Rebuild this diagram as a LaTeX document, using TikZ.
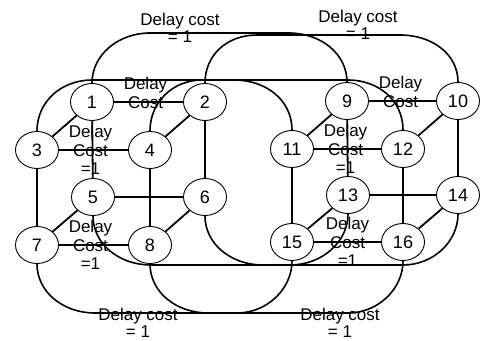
\documentclass[tikz,border=0pt]{standalone}
\usepackage{fontspec}
\setmainfont{Liberation Sans}
\usetikzlibrary{shapes,positioning,calc}
\tikzstyle{vertex} = [ellipse, draw, line width=0.45pt, minimum width=21.5pt, minimum height=18.5pt, inner sep=0pt, font=\fontsize{9}{10}\selectfont]
\tikzstyle{edge} = [line width=0.9pt]
\tikzstyle{link} = [line width=0.8pt]
\tikzstyle{costlabel} = [align=center, inner sep=0pt, font=\fontsize{8.5}{9.2}\selectfont]
\tikzstyle{bigcost} = [align=center, inner sep=0pt, font=\fontsize{8.5}{8.5}\selectfont]

\begin{document}
\begin{tikzpicture}[x=0.5pt, y=-0.5pt]
\useasboundingbox (0,0) rectangle (481,341);

% Left cube
\node (n1) [vertex] at (92,102) {1};
\node (n2) [vertex] at (205,102) {2};
\node (n3) [vertex] at (37,150) {3};
\node (n4) [vertex] at (150,150) {4};
\node (n5) [vertex] at (93,197) {5};
\node (n6) [vertex] at (205,197) {6};
\node (n7) [vertex] at (37,245) {7};
\node (n8) [vertex] at (150,245) {8};

% Right cube
\node (n9) [vertex] at (347,101) {9};
\node (n10) [vertex] at (458,101) {10};
\node (n11) [vertex] at (292,149) {11};
\node (n12) [vertex] at (403,149) {12};
\node (n13) [vertex] at (348,195) {13};
\node (n14) [vertex] at (458,195) {14};
\node (n15) [vertex] at (292,242) {15};
\node (n16) [vertex] at (403,242) {16};

% Levels of the long links
\coordinate (top1) at (0,33);
\coordinate (top2) at (0,80);
\coordinate (bot1) at (0,265);
\coordinate (bot2) at (0,313);

% Edges inside the left cube
\draw[edge] (n1) -- node (c12) [costlabel, xshift=-1.5pt, yshift=4.6pt] {Delay\\Cost} (n2);
\draw[edge] (n1) -- (n3);
\draw[edge] (n2) -- (n4);
\draw[edge] (n3) -- node (c34) [costlabel, xshift=-1.5pt] {Delay\\Cost\\=1} (n4);
\draw[edge] (n1) -- (n5);
\draw[edge] (n2) -- (n6);
\draw[edge] (n3) -- (n7);
\draw[edge] (n4) -- (n8);
\draw[edge] (n5) -- (n6);
\draw[edge] (n5) -- (n7);
\draw[edge] (n6) -- (n8);
\draw[edge] (n7) -- node (c78) [costlabel, xshift=-1.5pt] {Delay\\Cost\\=1} (n8);

% Edges inside the right cube
\draw[edge] (n9) -- node (c910) [costlabel, xshift=-1pt, yshift=4.6pt] {Delay\\Cost} (n10);
\draw[edge] (n9) -- (n11);
\draw[edge] (n10) -- (n12);
\draw[edge] (n11) -- node (c1112) [costlabel, xshift=-1pt] {Delay\\Cost\\=1} (n12);
\draw[edge] (n9) -- (n13);
\draw[edge] (n10) -- (n14);
\draw[edge] (n11) -- (n15);
\draw[edge] (n12) -- (n16);
\draw[edge] (n13) -- (n14);
\draw[edge] (n13) -- (n15);
\draw[edge] (n14) -- (n16);
\draw[edge] (n15) -- node (c1516) [costlabel] {Delay\\Cost\\=1} (n16);

% Links between the two cubes (upper ones)
\draw[link] (n1.north) .. controls +(0,-28) and +(-32,0) .. ($(n1.north |- top1)+(58,0)$)
  -- ($(n9.north |- top1)+(-58,0)$) .. controls +(32,0) and +(0,-28) .. (n9.north);
\draw[link] (n2.north) .. controls +(0,-28) and +(-30,0) .. ($(n2.north |- top1)+(52,2)$)
  -- ($(n10.north |- top1)+(-58,2)$) .. controls +(32,0) and +(0,-28) .. (n10.north);
\draw[link] (n3.north) .. controls +(0,-30) and +(-30,0) .. ($(n3.north |- top2)+(55,0)$)
  -- ($(n11.north |- top2)+(-58,0)$) .. controls +(32,0) and +(0,-30) .. (n11.north);
\draw[link] (n4.north) .. controls +(0,-30) and +(-28,0) .. ($(n4.north |- top2)+(52,0)$)
  -- ($(n12.north |- top2)+(-55,0)$) .. controls +(30,0) and +(0,-30) .. (n12.north);

% Links between the two cubes (lower ones)
\draw[link] (n5.south) .. controls +(0,28) and +(-32,0) .. ($(n5.south |- bot1)+(58,0)$)
  -- ($(n13.south |- bot1)+(-58,0)$) .. controls +(32,0) and +(0,28) .. (n13.south);
\draw[link] (n6.south) .. controls +(0,28) and +(-32,0) .. ($(n6.south |- bot1)+(58,0)$)
  -- ($(n14.south |- bot1)+(-55,0)$) .. controls +(30,0) and +(0,28) .. (n14.south);
\draw[link] (n7.south) .. controls +(0,28) and +(-32,0) .. ($(n7.south |- bot2)+(58,0)$)
  -- ($(n15.south |- bot2)+(-55,0)$) .. controls +(30,0) and +(0,28) .. (n15.south);
\draw[link] (n8.south) .. controls +(0,28) and +(-32,0) .. ($(n8.south |- bot2)+(58,0)$)
  -- ($(n16.south |- bot2)+(-55,0)$) .. controls +(30,0) and +(0,28) .. (n16.south);

% Costs of the long links
\node (costtl) [bigcost] at (180,28) {Delay cost\\= 1};
\node (costtr) [bigcost] at (358,25) {Delay cost\\= 1};
\node (costbl) [bigcost] at (138,323) {Delay cost\\= 1};
\node (costbr) [bigcost] at (340,323) {Delay cost\\= 1};
\end{tikzpicture}
\end{document}
